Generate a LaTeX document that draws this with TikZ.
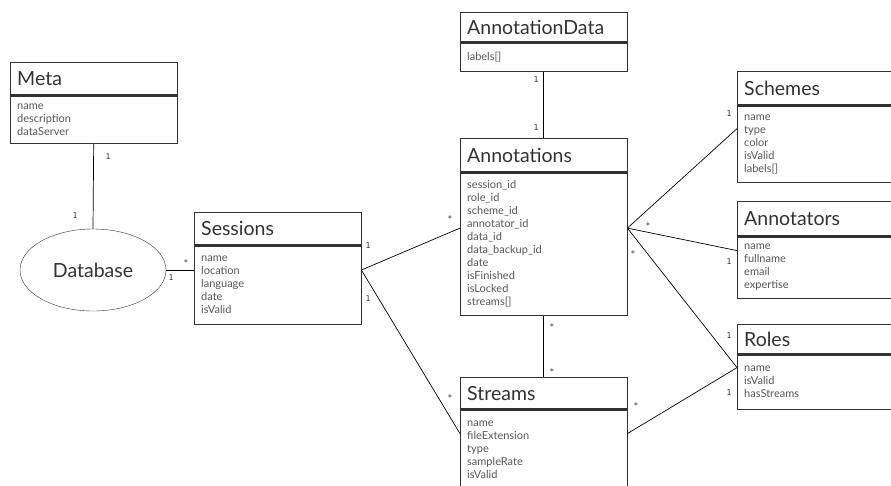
\documentclass[tikz,border=0pt]{standalone}
\usepackage{fontspec}
\setmainfont{Lato}
\newfontfamily\multfont{DejaVu Sans Mono}
\usetikzlibrary{positioning,shapes.geometric}
\definecolor{umlline}{RGB}{50,50,50}
\definecolor{umltext}{RGB}{85,85,85}

\begin{document}
\begin{tikzpicture}[x=1pt, y=-1pt, node distance=0pt]
    % Define styles
    \tikzstyle{entity} = [rectangle, draw=umlline, anchor=north west, text width=153pt, inner xsep=7pt, minimum height=33pt, align=left, font=\fontsize{19.5}{21}\selectfont, text=umlline]
    \tikzstyle{fields} = [rectangle, draw=umlline, text width=153pt, inner xsep=7pt, inner ysep=1pt, align=left, font=\fontsize{11}{13}\selectfont, text=umltext]
    \tikzstyle{sep} = [line width=3pt, umlline]
    \tikzstyle{conn} = [line width=0.7pt, black]
    \tikzstyle{mult} = [font=\multfont\fontsize{8}{9}\selectfont, text=umlline, inner sep=0pt]

    \useasboundingbox (0,0) rectangle (891,485);
    \clip (0,0) rectangle (891,485);

    % Entities
    \node (meta) [entity] at (10,62) {Meta};
    \node (metaA) [fields, below=of meta, minimum height=48pt] {name\\description\\dataServer};
    \node (db) [ellipse, draw=umlline, minimum width=146pt, minimum height=82pt, font=\fontsize{19.5}{21}\selectfont, text=umlline] at (93,270) {Database};
    \node (ses) [entity] at (194,212) {Sessions};
    \node (sesA) [fields, below=of ses, minimum height=79pt] {name\\location\\language\\date\\isValid};
    \node (adata) [entity, minimum height=30pt] at (460,12) {AnnotationData};
    \node (adataA) [fields, below=of adata, minimum height=29pt] {labels[]};
    \node (ann) [entity, minimum height=34pt] at (460,138) {Annotations};
    \node (annA) [fields, below=of ann, minimum height=143pt] {session\_id\\role\_id\\scheme\_id\\annotator\_id\\data\_id\\data\_backup\_id\\date\\isFinished\\isLocked\\streams[]};
    \node (sch) [entity, minimum height=34pt] at (737,71) {Schemes};
    \node (schA) [fields, below=of sch, minimum height=77pt] {name\\type\\color\\isValid\\labels[]};
    \node (ator) [entity, minimum height=35pt] at (737,201) {Annotators};
    \node (atorA) [fields, below=of ator, minimum height=62pt] {name\\fullname\\email\\expertise};
    \node (rol) [entity, minimum height=30pt] at (737,324) {Roles};
    \node (rolA) [fields, below=of rol, minimum height=55pt] {name\\isValid\\hasStreams};
    \node (str) [entity, minimum height=32pt] at (460,377) {Streams};
    \node (strA) [fields, below=of str, minimum height=80pt] {name\\fileExtension\\type\\sampleRate\\isValid};

    \foreach \n in {meta,ses,adata,ann,sch,ator,rol,str}
        \draw [sep] (\n.south west) -- (\n.south east);

    % Connector ends
    \coordinate (sesR) at (sesA.east |- db.east);
    \coordinate (annL) at ([yshift=16pt]annA.west);
    \coordinate (annR) at ([yshift=16pt]annA.east);
    \coordinate (strL) at ([yshift=16pt]strA.west);
    \coordinate (strR) at ([yshift=16pt]strA.east);

    % Connectors
    \draw [conn] (metaA.south) -- (db.north);
    \draw [conn] (db.east) -- (db.east -| sesA.west);
    \draw [conn] (sesR) -- (annL);
    \draw [conn] (sesR) -- (strL);
    \draw [conn] (adataA.south) -- (ann.north);
    \draw [conn] (annA.south) -- (str.north);
    \draw [conn] (annR) -- ([yshift=15.5pt]schA.west);
    \draw [conn] (annR) -- ([yshift=17pt]atorA.west);
    \draw [conn] (annR) -- ([yshift=14.5pt]rolA.west);
    \draw [conn] (strR) -- ([yshift=14.5pt]rolA.west);

    % Multiplicities
    \foreach \x/\y/\m [count=\i] in {108/157/1, 75/216/1, 186/263/*, 171/278/1,
        368/246/1, 450/219/*, 368/299/1, 450/398/*, 536/80/1, 536/128/1,
        552/327/*, 552/372/*, 648/226/*, 633/254/*, 729/114/1, 729/262/1,
        729/336/1, 729/393/1, 636/406/*}
        \node (m\i) [mult] at (\x,\y) {\m};
\end{tikzpicture}
\end{document}
